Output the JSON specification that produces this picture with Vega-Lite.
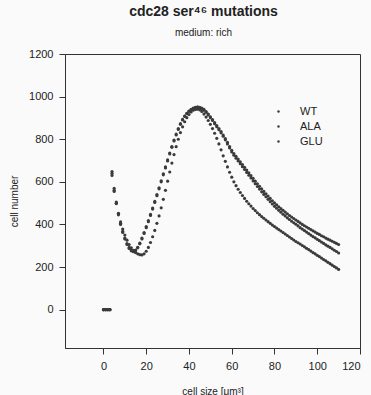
{
"$schema": "https://vega.github.io/schema/vega-lite/v6.json",
"width": 295, "height": 294,
"autosize": "none",
"padding": {"left": 65, "top": 54, "right": 11, "bottom": 47},
"background": "#fafafa",
"title": {"text": "cdc28 ser⁴⁶ mutations", "subtitle": "medium: rich", "font": "Liberation Sans", "fontSize": 14, "fontWeight": "bold", "color": "#222", "subtitleFont": "Liberation Sans", "subtitleFontSize": 10, "subtitleColor": "#222", "subtitlePadding": 9, "offset": 10, "anchor": "middle", "dx": -9},
"data": {"values": [
{"x":0,"WT":0,"ALA":0,"GLU":0},
{"x":1,"WT":0,"ALA":0,"GLU":0},
{"x":2,"WT":0,"ALA":0,"GLU":0},
{"x":3,"WT":0,"ALA":0,"GLU":0},
{"x":4,"WT":648,"ALA":640,"GLU":630},
{"x":5,"WT":570,"ALA":560,"GLU":555},
{"x":6,"WT":505,"ALA":498,"GLU":500},
{"x":7,"WT":450,"ALA":445,"GLU":452},
{"x":8,"WT":405,"ALA":400,"GLU":412},
{"x":9,"WT":368,"ALA":362,"GLU":378},
{"x":10,"WT":336,"ALA":332,"GLU":350},
{"x":11,"WT":310,"ALA":306,"GLU":326},
{"x":12,"WT":292,"ALA":287,"GLU":306},
{"x":13,"WT":280,"ALA":276,"GLU":290},
{"x":14,"WT":276,"ALA":272,"GLU":278},
{"x":15,"WT":280,"ALA":277,"GLU":268},
{"x":16,"WT":292,"ALA":290,"GLU":262},
{"x":17,"WT":312,"ALA":309,"GLU":258},
{"x":18,"WT":336,"ALA":332,"GLU":257},
{"x":19,"WT":362,"ALA":358,"GLU":262},
{"x":20,"WT":390,"ALA":385,"GLU":274},
{"x":21,"WT":418,"ALA":413,"GLU":292},
{"x":22,"WT":447,"ALA":442,"GLU":315},
{"x":23,"WT":477,"ALA":472,"GLU":342},
{"x":24,"WT":508,"ALA":503,"GLU":372},
{"x":25,"WT":540,"ALA":535,"GLU":405},
{"x":26,"WT":572,"ALA":567,"GLU":440},
{"x":27,"WT":605,"ALA":600,"GLU":478},
{"x":28,"WT":638,"ALA":633,"GLU":518},
{"x":29,"WT":670,"ALA":665,"GLU":560},
{"x":30,"WT":703,"ALA":698,"GLU":603},
{"x":31,"WT":735,"ALA":731,"GLU":646},
{"x":32,"WT":766,"ALA":762,"GLU":688},
{"x":33,"WT":796,"ALA":792,"GLU":728},
{"x":34,"WT":824,"ALA":820,"GLU":765},
{"x":35,"WT":850,"ALA":846,"GLU":800},
{"x":36,"WT":873,"ALA":870,"GLU":831},
{"x":37,"WT":893,"ALA":890,"GLU":858},
{"x":38,"WT":909,"ALA":907,"GLU":882},
{"x":39,"WT":922,"ALA":920,"GLU":901},
{"x":40,"WT":932,"ALA":931,"GLU":916},
{"x":41,"WT":940,"ALA":939,"GLU":928},
{"x":42,"WT":946,"ALA":944,"GLU":936},
{"x":43,"WT":950,"ALA":947,"GLU":940},
{"x":44,"WT":952,"ALA":948,"GLU":941},
{"x":45,"WT":950,"ALA":946,"GLU":938},
{"x":46,"WT":946,"ALA":942,"GLU":930},
{"x":47,"WT":940,"ALA":936,"GLU":918},
{"x":48,"WT":930,"ALA":926,"GLU":904},
{"x":49,"WT":918,"ALA":914,"GLU":888},
{"x":50,"WT":905,"ALA":901,"GLU":870},
{"x":51,"WT":892,"ALA":888,"GLU":850},
{"x":52,"WT":878,"ALA":873,"GLU":828},
{"x":53,"WT":864,"ALA":859,"GLU":804},
{"x":54,"WT":850,"ALA":845,"GLU":778},
{"x":55,"WT":836,"ALA":830,"GLU":750},
{"x":56,"WT":820,"ALA":814,"GLU":722},
{"x":57,"WT":803,"ALA":797,"GLU":696},
{"x":58,"WT":785,"ALA":778,"GLU":670},
{"x":59,"WT":766,"ALA":759,"GLU":645},
{"x":60,"WT":748,"ALA":740,"GLU":622},
{"x":61,"WT":733,"ALA":725,"GLU":600},
{"x":62,"WT":720,"ALA":711,"GLU":582},
{"x":63,"WT":707,"ALA":698,"GLU":565},
{"x":64,"WT":694,"ALA":685,"GLU":550},
{"x":65,"WT":681,"ALA":671,"GLU":536},
{"x":66,"WT":668,"ALA":658,"GLU":522},
{"x":67,"WT":655,"ALA":644,"GLU":509},
{"x":68,"WT":642,"ALA":631,"GLU":497},
{"x":69,"WT":629,"ALA":618,"GLU":486},
{"x":70,"WT":616,"ALA":604,"GLU":475},
{"x":71,"WT":603,"ALA":591,"GLU":465},
{"x":72,"WT":591,"ALA":578,"GLU":455},
{"x":73,"WT":579,"ALA":566,"GLU":446},
{"x":74,"WT":567,"ALA":553,"GLU":437},
{"x":75,"WT":555,"ALA":541,"GLU":429},
{"x":76,"WT":544,"ALA":530,"GLU":421},
{"x":77,"WT":533,"ALA":518,"GLU":413},
{"x":78,"WT":522,"ALA":507,"GLU":405},
{"x":79,"WT":511,"ALA":496,"GLU":397},
{"x":80,"WT":501,"ALA":485,"GLU":390},
{"x":81,"WT":492,"ALA":476,"GLU":383},
{"x":82,"WT":483,"ALA":466,"GLU":376},
{"x":83,"WT":474,"ALA":457,"GLU":369},
{"x":84,"WT":466,"ALA":448,"GLU":362},
{"x":85,"WT":458,"ALA":440,"GLU":355},
{"x":86,"WT":450,"ALA":431,"GLU":348},
{"x":87,"WT":442,"ALA":423,"GLU":341},
{"x":88,"WT":435,"ALA":415,"GLU":334},
{"x":89,"WT":428,"ALA":408,"GLU":327},
{"x":90,"WT":421,"ALA":401,"GLU":320},
{"x":91,"WT":414,"ALA":393,"GLU":314},
{"x":92,"WT":407,"ALA":385,"GLU":308},
{"x":93,"WT":400,"ALA":378,"GLU":301},
{"x":94,"WT":394,"ALA":371,"GLU":295},
{"x":95,"WT":388,"ALA":364,"GLU":288},
{"x":96,"WT":382,"ALA":357,"GLU":282},
{"x":97,"WT":376,"ALA":350,"GLU":275},
{"x":98,"WT":370,"ALA":343,"GLU":268},
{"x":99,"WT":364,"ALA":337,"GLU":262},
{"x":100,"WT":358,"ALA":330,"GLU":255},
{"x":101,"WT":353,"ALA":324,"GLU":249},
{"x":102,"WT":347,"ALA":317,"GLU":242},
{"x":103,"WT":342,"ALA":311,"GLU":235},
{"x":104,"WT":336,"ALA":304,"GLU":229},
{"x":105,"WT":331,"ALA":298,"GLU":222},
{"x":106,"WT":326,"ALA":292,"GLU":216},
{"x":107,"WT":321,"ALA":286,"GLU":209},
{"x":108,"WT":316,"ALA":279,"GLU":202},
{"x":109,"WT":311,"ALA":273,"GLU":196},
{"x":110,"WT":306,"ALA":266,"GLU":189}
]},
"transform": [{"fold": ["WT", "ALA", "GLU"], "as": ["series", "count"]}],
"mark": {"type": "circle", "size": 10, "opacity": 1},
"encoding": {
  "x": {"field": "x", "type": "quantitative", "scale": {"domain": [-18, 120], "nice": false, "zero": false},
        "axis": {"values": [0, 20, 40, 60, 80, 100, 120], "format": "d", "title": "cell size [μm³]", "titleFontSize": 10, "titlePadding": 15, "labelPadding": 6}},
  "y": {"field": "count", "type": "quantitative", "scale": {"domain": [-180, 1200], "nice": false, "zero": false},
        "axis": {"values": [0, 200, 400, 600, 800, 1000, 1200], "format": "d", "title": "cell number", "titleFontSize": 10, "titlePadding": 9, "labelPadding": 6}},
  "color": {"field": "series", "type": "nominal", "scale": {"domain": ["WT", "ALA", "GLU"], "range": ["#3a3a3a", "#3a3a3a", "#3a3a3a"]},
            "legend": {"title": null, "orient": "none", "legendX": 208, "legendY": 52, "symbolType": "circle", "symbolSize": 6, "labelFontSize": 11, "labelFont": "Liberation Sans", "labelColor": "#222", "labelOffset": 16, "rowPadding": 3}}
},
"config": {
  "view": {"stroke": "#333", "strokeWidth": 1},
  "axis": {"grid": false, "domainColor": "#333", "tickColor": "#333", "tickSize": 6, "labelFont": "Liberation Sans", "labelFontSize": 11, "labelColor": "#222", "titleFont": "Liberation Sans", "titleFontWeight": "normal", "titleColor": "#222"}
}
}
